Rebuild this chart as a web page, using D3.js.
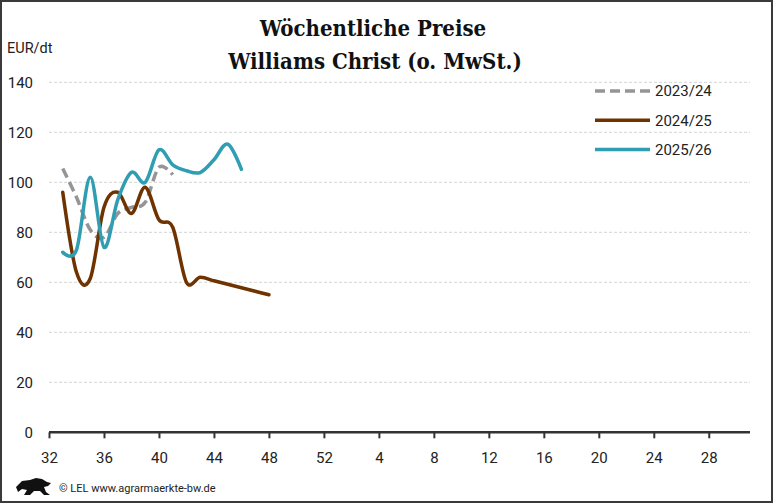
<!DOCTYPE html>
<html>
<head>
<meta charset="utf-8">
<script src="https://cdn.jsdelivr.net/npm/d3@7"></script>
<style>
  body { margin: 0; background: #fff; }
  svg { display: block; }
</style>
</head>
<body>
<script>
// Kalenderwochen: 32..52, dann 1..31
const weeks = d3.range(32, 53).concat(d3.range(1, 32));
const tickWeeks = [32, 36, 40, 44, 48, 52, 4, 8, 12, 16, 20, 24, 28];
const yTicks = [0, 20, 40, 60, 80, 100, 120, 140];

const seriesNames = ['2023/24', '2024/25', '2025/26'];
// Werte ab KW 33
const values2324 = [105.5, 94, 81, 78, 87.5, 90, 92, 106, 103];
const values2425 = [96, 64, 61.5, 90, 96, 87.5, 98, 85, 82, 60, 62, 60.6, 59.2, 57.8, 56.4, 55];
const values2526 = [72, 73, 102, 74, 93, 104, 100, 113, 107, 104.6, 103.9, 109, 115.3, 105.2];
const startWeek = 33;

const colors = ['#959595', '#6e3300', '#2f9db2'];

const W = 773, H = 503;
const svg = d3.select('body').append('svg')
    .attr('width', W)
    .attr('height', H);

svg.append('rect')
    .attr('x', 1).attr('y', 1)
    .attr('width', W - 2).attr('height', H - 2)
    .attr('fill', '#fff')
    .attr('stroke', '#3a3a3a')
    .attr('stroke-width', 2);

const x = d3.scalePoint()
    .domain(weeks)
    .range([49, 750]);

const y = d3.scaleLinear()
    .domain([0, 140])
    .range([432.3, 82.3]);

// Gitterlinien
svg.append('g')
    .selectAll('line')
    .data(yTicks.filter(d => d > 0))
    .enter()
    .append('line')
    .attr('x1', 49).attr('x2', 750)
    .attr('y1', d => y(d)).attr('y2', d => y(d))
    .attr('stroke', '#d4d4d4')
    .attr('stroke-dasharray', '3,2')
    .attr('stroke-width', 1);

// y-Achse Beschriftung
svg.append('g')
    .selectAll('text')
    .data(yTicks)
    .enter()
    .append('text')
    .attr('x', 33)
    .attr('y', d => y(d))
    .attr('dy', '0.35em')
    .attr('text-anchor', 'end')
    .style('font-family', 'Roboto, sans-serif')
    .style('font-size', '15px')
    .attr('fill', '#222')
    .text(d => d);

svg.append('text')
    .attr('x', 7).attr('y', 53)
    .style('font-family', 'Roboto, sans-serif')
    .style('font-size', '14.5px')
    .attr('fill', '#222')
    .text('EUR/dt');

// x-Achse
const xAxis = svg.append('g')
    .attr('transform', `translate(0, ${y(0)})`)
    .call(d3.axisBottom(x).tickValues(tickWeeks).tickSize(6).tickSizeOuter(0).tickPadding(14));
xAxis.select('.domain')
    .attr('stroke', '#333')
    .attr('stroke-width', 2.5)
    .attr('d', `M${x(32)},0H${x(31)}`);
xAxis.selectAll('.tick line')
    .attr('stroke', '#333')
    .attr('stroke-width', 2);
xAxis.selectAll('.tick text')
    .style('font-family', 'Roboto, sans-serif')
    .style('font-size', '15px')
    .attr('fill', '#222');

// Linien
const seriesData = [values2324, values2425, values2526].map(vals =>
    vals.map((v, i) => ({ week: weeks[weeks.indexOf(startWeek) + i], value: v }))
);

const line = d3.line()
    .x(d => x(d.week))
    .y(d => y(d.value))
    .curve(d3.curveCardinal.tension(0));

svg.append('g')
    .selectAll('path')
    .data(seriesData)
    .enter()
    .append('path')
    .attr('d', line)
    .attr('fill', 'none')
    .attr('stroke', (d, i) => colors[i])
    .attr('stroke-width', 3.5)
    .attr('stroke-linecap', (d, i) => i === 0 ? 'butt' : 'round')
    .attr('stroke-dasharray', (d, i) => i === 0 ? '10,5' : null);

// Legende
const legend = svg.append('g')
    .selectAll('g')
    .data(seriesNames)
    .enter()
    .append('g')
    .attr('transform', (d, i) => `translate(595, ${91 + i * 29.3})`);

legend.append('line')
    .attr('x1', 0).attr('x2', 55)
    .attr('stroke', (d, i) => colors[i])
    .attr('stroke-width', 3.5)
    .attr('stroke-dasharray', (d, i) => i === 0 ? '10,5' : null);

legend.append('text')
    .attr('x', 60)
    .attr('dy', '0.35em')
    .style('font-family', 'Roboto, sans-serif')
    .style('font-size', '15px')
    .attr('fill', '#222')
    .text(d => d);

// Titel
const title = svg.append('text')
    .attr('text-anchor', 'middle')
    .style('font-family', '"DejaVu Serif Condensed", "DejaVu Serif", serif')
    .style('font-weight', 'bold')
    .style('font-size', '22px')
    .attr('fill', '#111');
title.append('tspan').attr('x', 373).attr('y', 35.5).text('Wöchentliche Preise');
title.append('tspan').attr('x', 375).attr('y', 69).text('Williams Christ (o. MwSt.)');

// Fußzeile mit Löwe
svg.append('path')
    .attr('d', 'M16,487 L22,481 L30,480 L36,478 L42,479 L47,482 L51,483 L48,486 L44,487 L46,492 L50,495 L44,495 L40,491 L34,491 L30,495 L24,495 L27,490 L22,489 L18,492 Z')
    .attr('fill', '#111');

svg.append('text')
    .attr('x', 59).attr('y', 492)
    .style('font-family', 'Roboto, sans-serif')
    .style('font-size', '11px')
    .attr('fill', '#222')
    .text('© LEL www.agrarmaerkte-bw.de');
</script>
</body>
</html>
